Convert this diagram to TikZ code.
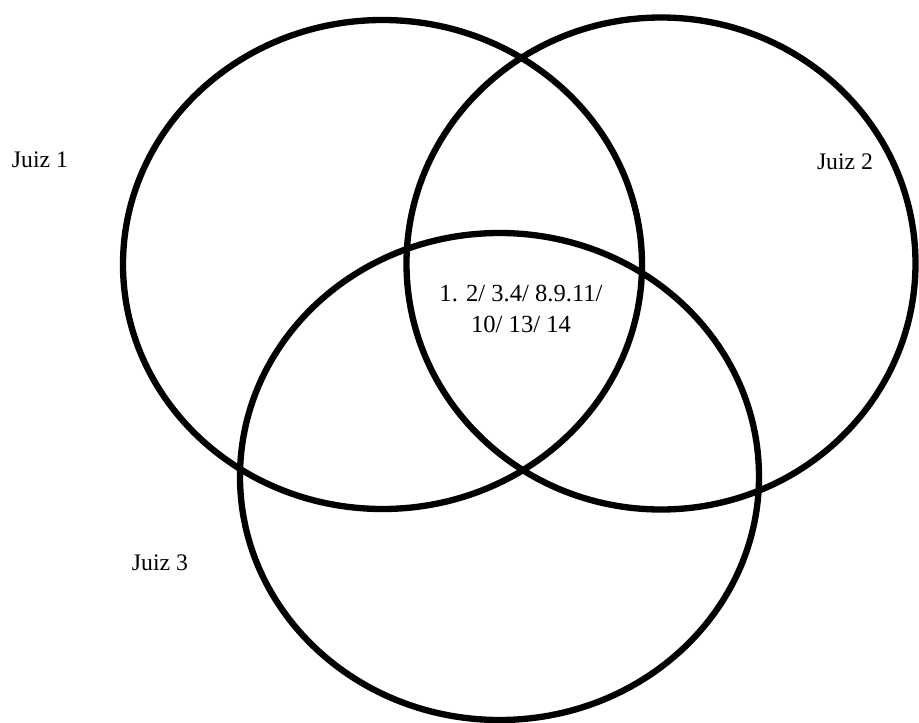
\documentclass[tikz,border=0pt]{standalone}
\usepackage{fontspec}
\setmainfont{Liberation Serif}
\usetikzlibrary{positioning}

\begin{document}
\begin{tikzpicture}[
  judge/.style={line width=3.6pt, black},
  jlabel/.style={font=\fontsize{13.5}{16}\selectfont, inner sep=0pt},
  common/.style={font=\fontsize{14}{18}\selectfont, align=center, inner sep=0pt}
]
\useasboundingbox (0,0) rectangle (18.38,-14.46);

% Three judges
\draw[judge] (7.65,-5.29) ellipse [x radius=5.19, y radius=4.89];
\draw[judge] (13.22,-5.27) ellipse [x radius=5.09, y radius=4.92];
\draw[judge] (9.99,-9.53) ellipse [x radius=5.19, y radius=4.87];

% Labels
\node[jlabel] (juiz1) at (0.8,-3.2) {Juiz 1};
\node[jlabel] (juiz2) at (16.9,-3.24) {Juiz 2};
\node[jlabel] (juiz3) at (3.2,-11.26) {Juiz 3};

% Common region
\node[common] (all) at (10.42,-6.18) {1. 2/ 3.4/ 8.9.11/\\10/ 13/ 14};

\end{tikzpicture}
\end{document}
